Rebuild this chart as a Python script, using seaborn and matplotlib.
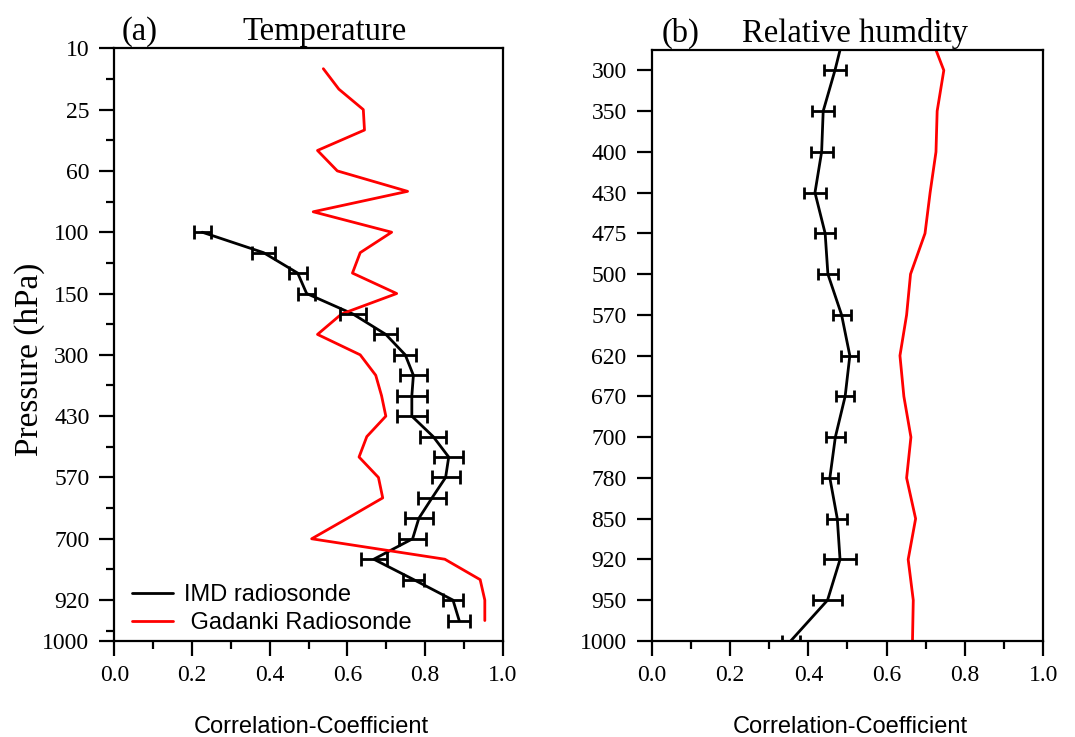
import numpy as np
import pandas as pd
import matplotlib
matplotlib.use("Agg")
import matplotlib.pyplot as plt
import seaborn as sns

# ---------------------------------------------------------------- data
# (a) Temperature: pressure levels on the axis, profiles sampled every 1/3 level
temp_levels = ["10", "25", "60", "100", "150", "300", "430", "570", "700", "920", "1000"]
temp_gadanki_start = 1   # first sample (in 1/3-level steps)
temp_gadanki = [0.538, 0.578, 0.641, 0.644, 0.523, 0.574, 0.755, 0.512, 0.714,
                0.633, 0.613, 0.727, 0.585, 0.523, 0.633, 0.673, 0.688, 0.699,
                0.650, 0.630, 0.680, 0.691, 0.600, 0.508, 0.851, 0.942, 0.954,
                0.954]
temp_imd_start = 9
temp_imd = [0.226, 0.384, 0.472, 0.495, 0.614, 0.699, 0.749, 0.770, 0.766, 0.766,
            0.821, 0.861, 0.853, 0.818, 0.784, 0.768, 0.668, 0.771, 0.872, 0.888]
temp_imd_err = [0.022, 0.029, 0.023, 0.021, 0.034, 0.030, 0.029, 0.034, 0.038, 0.038,
                0.033, 0.037, 0.036, 0.036, 0.036, 0.034, 0.033, 0.027, 0.027, 0.028]

# (b) Relative humidity: one value per level (250 hPa lies just above the frame)
rh_levels = ["250", "300", "350", "400", "430", "475", "500", "570", "620", "670",
             "700", "780", "850", "920", "950", "1000"]
rh_imd = [0.494, 0.468, 0.438, 0.434, 0.417, 0.443, 0.450, 0.485, 0.506, 0.494,
          0.469, 0.455, 0.474, 0.481, 0.449, 0.355]
rh_imd_err = [np.nan, 0.028, 0.028, 0.028, 0.028, 0.026, 0.026, 0.023, 0.022, 0.023,
              0.025, 0.021, 0.026, 0.040, 0.038, 0.023]
rh_gadanki = [0.706, 0.746, 0.729, 0.726, 0.711, 0.698, 0.661, 0.651, 0.634, 0.644,
              0.662, 0.651, 0.674, 0.655, 0.668, 0.666]

series_names = ["IMD radiosonde", "Gadanki Radiosonde"]
colors = {"IMD radiosonde": "black", "Gadanki Radiosonde": "red"}

sns.set_theme(style="ticks")
plt.rcParams.update({
    "font.family": ["Liberation Serif", "DejaVu Serif"],
    "text.color": "black",
    "axes.labelcolor": "black",
    "axes.edgecolor": "black",
    "axes.linewidth": 1.6,
    "xtick.color": "black",
    "ytick.color": "black",
    "xtick.labelsize": 17,
    "ytick.labelsize": 17,
})
sans = ["Liberation Sans", "DejaVu Sans"]

fig = plt.figure(figsize=(10.75, 7.37), dpi=100)
ax_t = fig.add_axes([0.1065, 0.1303, 0.3611, 0.8042])
ax_h = fig.add_axes([0.6062, 0.1303, 0.3643, 0.8019])

# ---------------------------------------------------------- panel (a)
imd_pos = (np.arange(len(temp_imd)) + temp_imd_start) / 3
gad_pos = (np.arange(len(temp_gadanki)) + temp_gadanki_start) / 3
df_t = pd.concat([
    pd.DataFrame({"r": temp_imd, "pos": imd_pos, "series": series_names[0]}),
    pd.DataFrame({"r": temp_gadanki, "pos": gad_pos, "series": series_names[1]}),
])
sns.lineplot(data=df_t, x="r", y="pos", hue="series", hue_order=series_names,
             palette=colors, orient="y", sort=False, estimator=None,
             linewidth=2.0, ax=ax_t)
ax_t.errorbar(temp_imd, imd_pos, xerr=temp_imd_err, fmt="none", ecolor="black",
              elinewidth=2.0, capsize=4.8, capthick=2.0, zorder=3)

handles, _ = ax_t.get_legend_handles_labels()
ax_t.legend(handles, ["IMD radiosonde", " Gadanki Radiosonde"], loc="lower left",
            bbox_to_anchor=(0.045, 0.012), frameon=False, borderpad=0,
            borderaxespad=0, handlelength=1.75, handletextpad=0.45,
            labelspacing=0.25, prop={"family": sans, "size": 17})

level_pos = list(range(len(temp_levels) - 1)) + [29 / 3]
ax_t.set_yticks(level_pos, temp_levels)
ax_t.set_yticks(np.arange(0.5, 10, 1.0), minor=True)
ax_t.set_ylim(29 / 3, 0)
ax_t.set_title("Temperature", fontsize=23.5, pad=6, x=0.54)
ax_t.set_title("(a)", loc="left", fontsize=23.5, pad=6, x=0.018)

# ---------------------------------------------------------- panel (b)
rh_pos = np.arange(len(rh_levels)) - 1
df_h = pd.concat([
    pd.DataFrame({"r": rh_imd, "pos": rh_pos, "series": series_names[0]}),
    pd.DataFrame({"r": rh_gadanki, "pos": rh_pos, "series": series_names[1]}),
])
sns.lineplot(data=df_h, x="r", y="pos", hue="series", hue_order=series_names,
             palette=colors, orient="y", sort=False, estimator=None,
             linewidth=2.0, ax=ax_h, legend=False)
ax_h.errorbar(rh_imd, rh_pos, xerr=rh_imd_err, fmt="none", ecolor="black",
              elinewidth=2.0, capsize=4.4, capthick=2.0, zorder=3)
ax_h.set_yticks(rh_pos, rh_levels)
ax_h.set_ylim(14, -0.5)
ax_h.set_title("Relative humdity", fontsize=23.5, pad=6, x=0.52)
ax_h.set_title("(b)", loc="left", fontsize=23.5, pad=6, x=0.025)

# ---------------------------------------------------------- common styling
for ax in (ax_t, ax_h):
    ax.set_xlim(0, 1)
    ax.set_xticks(np.arange(0, 1.01, 0.2), [f"{v:.1f}" for v in np.arange(0, 1.01, 0.2)])
    ax.set_xticks(np.arange(0.1, 1.0, 0.2), minor=True)
    ax.tick_params(which="major", length=11, width=1.6)
    ax.tick_params(which="minor", length=5.5, width=1.6)
    ax.tick_params(axis="y", pad=7)
    ax.tick_params(axis="x", pad=6)
    ax.set_xlabel("")
    ax.set_ylabel("")
    for s in ax.spines.values():
        s.set_visible(True)
        s.set_linewidth(1.6)

fig.text(0.2898, 0.006, "Correlation-Coefficient", ha="center", va="baseline",
         family=sans, fontsize=17)
fig.text(0.7907, 0.006, "Correlation-Coefficient", ha="center", va="baseline",
         family=sans, fontsize=17)
fig.text(0.028, 0.513, "Pressure (hPa)", rotation=90, ha="center", va="center",
         fontsize=24)

fig.savefig("out.png", dpi=100)
